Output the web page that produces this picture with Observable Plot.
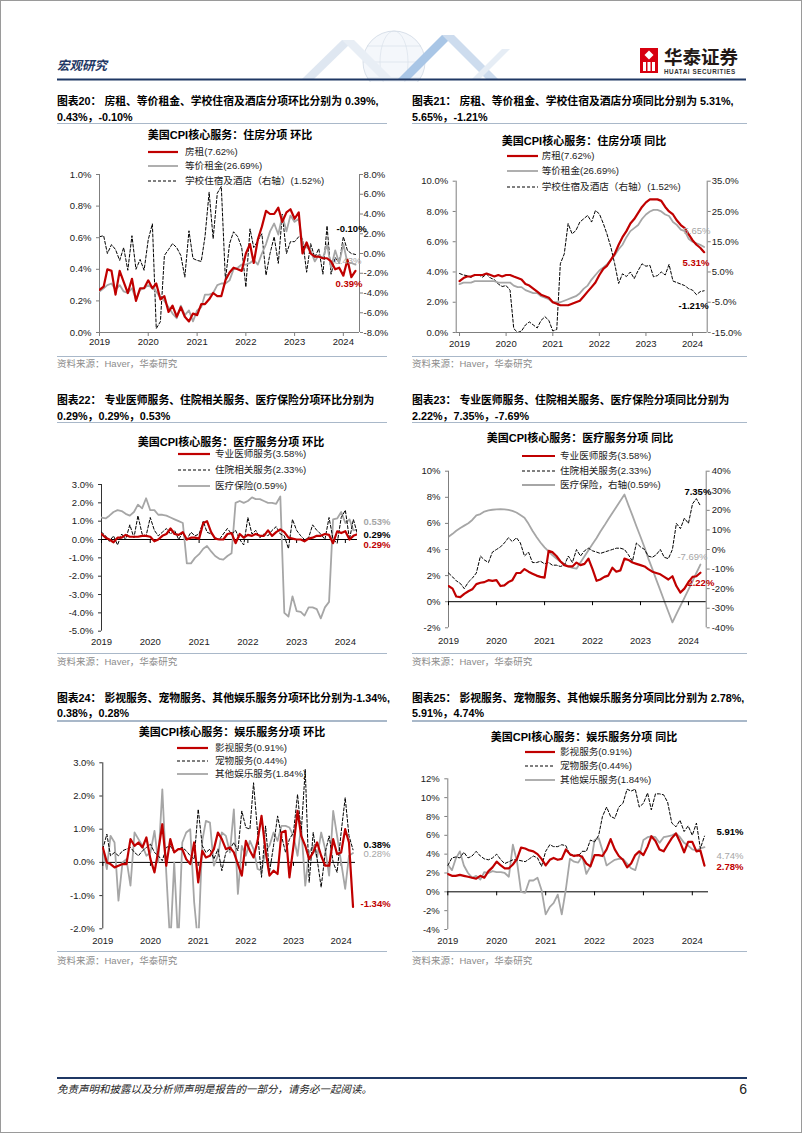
<!DOCTYPE html>
<html lang="zh">
<head>
<meta charset="utf-8">
<script src="https://cdn.jsdelivr.net/npm/d3@7"></script>
<script src="https://cdn.jsdelivr.net/npm/@observablehq/plot@0.6"></script>
<style>
html,body{margin:0;padding:0;background:#fff;}
#page{position:relative;width:802px;height:1133px;overflow:hidden;background:#fff;box-shadow:inset 0 0 0 1px #9a9a9a;font-family:"Liberation Sans",Arial,"Noto Sans CJK SC",sans-serif;}
.abs{position:absolute;}
.t1{font-family:"Liberation Sans","Noto Sans CJK SC",sans-serif;font-weight:700;font-size:10.8px;line-height:14px;color:#000;white-space:nowrap;}
.ct{font-family:"Liberation Sans","Noto Sans CJK SC",sans-serif;font-weight:700;font-size:11px;line-height:14px;color:#000;white-space:nowrap;text-align:center;width:300px;}
.lg{font-family:"Liberation Sans","Noto Sans CJK SC",sans-serif;font-size:9.6px;line-height:12px;color:#222;white-space:nowrap;}
.src{font-family:"Liberation Sans","Noto Sans CJK SC",sans-serif;font-size:9.5px;line-height:12px;color:#8c8c8c;white-space:nowrap;}
</style>
</head>
<body>
<div id="page">
<svg class="abs" style="left:0;top:0" width="802" height="82">
  <circle cx="394" cy="62" r="31" fill="#f4f7fb" stroke="#cfd8e3" stroke-width="0.8"/>
  <ellipse cx="394" cy="62" rx="14" ry="31" fill="none" stroke="#d5dde7" stroke-width="0.6"/>
  <path d="M363 62 H425 M367 46 H421 M367 78 H421" stroke="#d5dde7" stroke-width="0.6"/>
  <polygon points="302,79 342,40 354,40 314,79" fill="#dfe7f1"/>
  <polygon points="342,40 381,79 393,79 354,40" fill="#e8eef5"/>
  <polygon points="398,79 442,35 454,35 410,79" fill="#a9c6e6"/>
  <polygon points="442,35 486,79 498,79 454,35" fill="#cddcee"/>
  <polygon points="472,79 502,49 510,49 480,79" fill="#e6edf5"/>
  <rect x="640" y="48" width="18" height="25" fill="#d7000f"/>
  <polygon points="649,50.5 653.5,55 649,59.5 644.5,55" fill="#fff"/>
  <rect x="643" y="62" width="3" height="9" fill="#fff"/>
  <rect x="647.5" y="62" width="3" height="9" fill="#fff"/>
  <rect x="652" y="62" width="3" height="9" fill="#fff"/>
  <line x1="57" y1="79.5" x2="746" y2="79.5" stroke="#1f3864" stroke-width="2"/>
</svg>
</div>
<script>
// ---------------- data ----------------
const yearLabels = [2019, 2020, 2021, 2022, 2023, 2024];
const firstMonth = [2019, 0];
const lastMonthExclusive = [2024, 4]; // data through 2024-04

// 图表20 环比 (%)
const rent20 = [0.27,0.29,0.40,0.39,0.24,0.39,0.32,0.25,0.34,0.20,0.28,0.28,
  0.33,0.28,0.31,0.21,0.23,0.13,0.17,0.10,0.16,0.10,0.07,0.12,
  0.11,0.18,0.18,0.21,0.25,0.23,0.23,0.33,0.38,0.41,0.40,0.39,
  0.50,0.56,0.44,0.59,0.67,0.77,0.75,0.75,0.79,0.70,0.76,0.78,
  0.72,0.76,0.50,0.57,0.50,0.48,0.48,0.47,0.47,0.45,0.40,0.41,
  0.36,0.46,0.35,0.39];
const oer20 = [0.26,0.28,0.30,0.31,0.27,0.30,0.26,0.25,0.28,0.21,0.27,0.28,
  0.30,0.28,0.26,0.22,0.20,0.16,0.12,0.09,0.17,0.11,0.14,0.07,
  0.14,0.16,0.24,0.24,0.25,0.30,0.31,0.31,0.33,0.40,0.41,0.43,
  0.43,0.44,0.46,0.43,0.50,0.56,0.64,0.69,0.62,0.74,0.64,0.74,
  0.70,0.72,0.56,0.54,0.52,0.45,0.49,0.47,0.56,0.41,0.52,0.44,
  0.56,0.44,0.44,0.43];
const hotel20 = [1.7,1.8,0.0,0.9,0.4,-0.7,0.6,-1.7,1.8,-1.6,-0.6,-1.7,
  1.4,3.0,-7.6,-6.9,-0.2,0.4,1.0,0.6,-0.2,-2.4,2.3,-0.5,
  -0.7,-0.8,1.7,6.2,1.5,6.1,6.8,-2.7,1.0,2.2,1.7,0.6,
  -3.4,2.5,0.6,1.3,2.0,-2.2,0.0,1.7,-1.0,4.0,0.0,1.2,
  1.2,1.7,1.5,-1.9,1.0,-0.4,0.5,-2.1,2.8,-2.1,-0.4,-1.0,
  1.7,0.3,0.0,-0.1];

// 图表21 同比 (%)
const rent21 = [3.4,3.6,3.7,3.7,3.8,3.8,3.8,3.9,3.8,3.7,3.8,3.7,
  3.8,3.8,3.7,3.6,3.5,3.2,3.1,2.9,2.7,2.5,2.4,2.3,
  2.0,1.9,1.8,1.8,1.8,1.9,2.0,2.1,2.4,2.7,3.0,3.3,
  3.8,4.2,4.4,4.8,5.2,5.8,6.3,6.7,7.2,7.5,7.9,8.3,
  8.6,8.8,8.8,8.8,8.7,8.3,8.0,7.8,7.4,7.1,6.9,6.5,
  6.1,5.8,5.6,5.31];
const oer21 = [3.2,3.3,3.3,3.3,3.4,3.4,3.4,3.4,3.4,3.4,3.3,3.3,
  3.3,3.3,3.1,3.0,3.0,2.8,2.7,2.6,2.6,2.4,2.3,2.2,
  2.0,2.0,2.0,2.1,2.2,2.3,2.4,2.6,2.9,3.1,3.5,3.8,
  4.1,4.3,4.5,4.8,5.1,5.5,5.8,6.3,6.7,6.9,7.1,7.5,
  7.8,8.0,8.1,8.1,8.0,7.8,7.7,7.3,7.1,6.8,6.7,6.2,
  6.0,5.9,5.8,5.65];
const hotel21 = [4.5,4.0,3.8,3.2,4.2,4.0,3.3,4.3,3.0,2.5,1.0,0.2,
  0.5,-1.0,-13.7,-15.0,-14.5,-12.5,-11.5,-12.5,-13.5,-11.0,-9.8,-11.0,
  -14.5,-14.0,7.7,11.0,21.0,17.6,18.7,21.5,22.6,23.7,21.5,25.3,
  24.2,21.0,17.6,13.2,7.7,1.2,4.4,3.5,5.0,2.8,5.5,7.7,
  6.9,7.2,3.4,3.8,5.0,4.0,7.5,2.0,1.5,1.0,0.5,-0.5,
  -1.0,-2.5,-1.5,-1.21];

// 图表22 环比 (%)
const doc22 = [0.30,0.10,0.00,-0.15,0.10,0.10,0.25,0.15,0.15,0.15,0.20,0.20,
  0.15,-0.10,0.00,0.20,0.30,0.60,0.30,0.25,0.40,0.00,0.10,0.10,
  0.05,0.90,1.00,0.40,0.05,0.00,0.00,0.30,0.35,-0.20,0.30,0.10,
  0.25,0.20,0.30,0.20,0.20,0.50,0.20,0.40,0.55,0.40,0.10,0.05,
  0.00,0.00,-0.10,0.05,0.10,0.20,0.20,0.30,0.25,-0.20,0.45,0.35,
  0.45,0.00,0.20,0.29];
const hosp22 = [0.40,0.20,-0.10,0.20,-0.30,0.30,0.00,0.80,0.10,1.30,0.30,0.20,
  1.20,0.50,0.20,0.40,0.60,0.30,0.50,0.00,0.40,0.00,0.40,0.20,
  0.30,1.00,0.40,0.30,0.10,0.00,0.30,0.60,0.30,0.50,0.00,-0.30,
  1.20,0.30,0.50,0.10,0.30,0.20,0.50,0.70,0.30,0.20,-0.50,1.10,
  0.50,0.20,0.00,0.10,0.80,0.50,0.30,0.00,1.20,0.00,-0.20,1.20,
  1.60,0.00,1.10,0.29];
const ins22 = [1.20,1.15,1.30,1.50,1.60,1.55,1.40,1.30,1.50,1.90,1.70,2.25,
  1.60,1.60,1.35,1.35,1.30,1.20,1.10,1.00,0.90,-1.30,-1.30,-1.00,
  -0.80,-0.50,-0.35,-0.65,-0.90,-1.05,-1.10,-0.90,-0.75,2.00,2.10,2.00,
  2.10,2.30,2.20,2.20,2.10,2.00,2.00,1.95,2.35,-4.00,-4.20,-3.10,
  -3.90,-3.95,-4.15,-3.70,-3.70,-3.80,-4.30,-3.70,-3.40,1.10,1.15,1.50,
  0.90,1.10,0.50,0.53];

// 图表23 同比 (%)
const doc23 = [1.20,1.00,0.40,0.35,0.60,0.80,0.95,1.35,1.45,1.50,1.65,1.60,
  1.65,1.20,1.25,1.50,1.65,2.20,2.20,2.50,2.30,2.15,2.00,1.90,
  1.85,3.90,3.80,3.50,3.10,2.80,2.70,2.70,3.00,2.80,2.90,3.30,
  2.50,1.60,1.70,1.90,2.00,2.60,2.30,2.40,3.30,3.20,3.00,2.90,
  2.80,2.70,2.50,2.30,2.20,2.10,1.90,1.70,1.95,1.20,0.70,1.00,
  1.50,1.90,1.95,2.22];
const hosp23 = [2.20,1.90,1.60,1.40,1.00,1.50,1.80,2.20,3.50,3.20,3.00,3.80,
  4.00,4.20,4.50,4.90,4.60,4.90,4.50,3.50,3.80,3.00,3.00,3.10,
  2.90,3.00,2.80,2.80,2.70,2.80,3.50,3.00,4.00,3.50,3.90,4.10,
  3.90,3.80,3.70,3.80,3.90,4.00,4.10,4.10,4.00,3.60,3.10,4.50,
  4.20,4.00,3.50,3.40,3.60,4.00,3.40,3.30,4.00,6.00,5.60,6.40,
  6.00,7.50,7.90,7.35];
const ins23 = [6.5,8.0,9.6,11.0,12.2,13.4,15.1,17.4,18.1,19.4,20.0,20.3,
  20.5,20.6,20.5,20.2,19.7,18.9,17.6,16.2,13.1,9.6,6.4,3.6,
  1.1,-1.0,-2.9,-4.6,-6.1,-7.4,-8.6,-9.4,-9.8,-6.6,-3.5,-0.4,
  2.8,5.9,9.1,12.2,15.4,18.6,21.7,24.9,28.1,22.7,17.3,11.9,
  6.5,1.0,-4.5,-9.9,-15.4,-20.9,-26.3,-31.8,-37.2,-33.0,-28.8,-24.7,
  -20.5,-16.3,-12.0,-7.69];

// 图表24 环比 (%)
const video24 = [0.45,0.00,-0.05,-0.15,-0.10,-0.05,-0.05,0.70,0.50,0.60,0.45,0.75,
  0.10,-0.30,0.35,1.15,-0.10,0.70,0.30,0.40,0.40,0.10,-0.05,0.60,
  -0.60,0.35,0.15,0.20,0.40,0.90,0.70,0.40,0.45,0.30,-0.05,-0.40,
  0.65,0.35,0.15,0.65,1.40,0.35,-0.40,-0.25,-0.35,0.90,0.95,-0.45,
  0.50,1.55,0.80,0.50,0.10,0.30,0.60,0.20,-0.10,-0.10,0.70,0.25,
  0.30,1.00,0.60,-1.34];
const pet24 = [0.40,0.85,0.20,0.30,0.20,0.35,0.40,0.45,0.30,0.20,0.35,0.45,
  0.55,0.30,0.20,0.05,0.45,0.50,0.30,0.40,0.45,0.35,0.20,0.10,
  1.60,0.50,0.30,0.40,0.10,0.40,-0.25,0.30,0.40,0.60,0.35,1.55,
  1.05,1.00,2.40,0.90,-0.45,1.10,-0.30,0.50,1.40,0.80,0.30,0.70,
  0.90,2.05,0.90,2.80,-0.60,0.90,0.10,-0.75,0.30,0.80,0.00,-0.30,
  0.90,1.95,0.80,0.38];
const rec24 = [0.40,-0.20,0.80,0.60,-1.15,0.00,0.10,-0.70,0.90,0.70,0.50,0.20,
  0.30,0.95,0.00,2.20,-0.30,-2.50,0.00,-2.50,0.60,0.90,1.00,-1.20,
  -2.50,0.65,1.25,1.20,-0.10,0.20,0.90,0.80,0.30,1.60,-0.95,0.50,
  0.20,0.65,0.40,-0.20,-0.25,0.35,0.50,0.90,0.65,1.10,1.10,1.05,
  0.80,0.20,1.10,-0.70,0.30,0.50,0.15,0.90,0.40,-0.40,1.55,0.80,
  0.00,-0.80,0.20,0.28];

// 图表25 同比 (%)
const video25 = [1.90,1.70,1.70,1.80,1.70,1.60,1.50,1.40,1.70,1.50,2.20,2.60,
  3.20,2.80,2.50,2.50,2.90,3.50,4.70,4.60,4.40,4.30,4.00,3.50,
  2.80,3.40,3.60,3.40,3.50,4.50,4.00,3.80,3.90,3.70,3.00,2.70,
  3.90,3.90,3.80,4.50,5.60,4.50,3.80,3.40,2.60,3.00,3.90,4.30,
  3.90,4.80,5.90,5.40,4.50,4.30,5.00,5.70,6.20,5.30,4.20,5.30,
  5.30,4.30,4.40,2.78];
const pet25 = [2.80,3.60,3.70,3.60,4.20,3.60,3.80,4.30,3.80,3.50,3.40,3.60,
  4.00,3.40,3.00,3.20,3.40,3.40,3.30,3.20,3.50,3.80,3.60,2.70,
  4.30,5.00,4.80,4.80,5.00,4.90,3.90,3.90,3.80,4.30,4.30,5.50,
  5.30,6.00,8.00,9.00,8.00,7.80,9.00,9.40,10.90,10.70,10.90,9.00,
  9.40,10.50,8.70,10.40,10.40,10.30,9.50,7.30,6.90,7.60,6.40,7.00,
  6.00,7.30,4.60,5.91];
const rec25 = [2.90,2.30,3.50,4.30,2.80,2.00,1.50,1.70,1.30,2.10,2.00,2.20,
  2.10,2.10,2.00,1.60,5.00,3.20,0.00,-0.10,1.20,1.20,1.50,0.20,
  -2.40,-1.60,-1.20,-0.30,-2.40,0.30,3.50,3.20,3.10,3.80,1.90,2.70,
  5.50,5.70,4.40,2.80,3.10,3.40,3.50,3.50,3.00,2.50,2.30,3.80,
  5.50,5.80,5.90,5.80,5.20,5.80,5.90,6.00,6.20,5.80,5.20,4.90,
  4.50,4.40,4.60,4.74];

// tick values
const ticks20L = [0, 0.2, 0.4, 0.6, 0.8, 1.0];
const ticks20R = [-8, -6, -4, -2, 0, 2, 4, 6, 8];
const ticks21L = [0, 2, 4, 6, 8, 10];
const ticks21R = [-15, -5, 5, 15, 25, 35];
const ticks22 = [-5, -4, -3, -2, -1, 0, 1, 2, 3];
const ticks23L = [-2, 0, 2, 4, 6, 8, 10];
const ticks23R = [-40, -30, -20, -10, 0, 10, 20, 30, 40];
const ticks24 = [-2, -1, 0, 1, 2, 3];
const ticks25 = [-4, -2, 0, 2, 4, 6, 8, 10, 12];

// ---------------- helpers ----------------
const page = document.getElementById("page");
const FONT = '"Liberation Sans", Arial, sans-serif';
const AX = "#7f7f7f";
const months = d3.utcMonth.range(new Date(Date.UTC(...firstMonth, 1)), new Date(Date.UTC(...lastMonthExclusive, 1)));
const yearTicks = yearLabels.map(y => new Date(Date.UTC(y, 0, 1)));
const rows = vals => vals.map((v, i) => ({date: months[i], v}));
const f1 = d => d.toFixed(1) + "%";
const f0 = d => d + "%";
const utc = (y, m, d) => new Date(Date.UTC(y, m - 1, d));

const RED = {stroke: "#c00000", strokeWidth: 2.2};
const GRAY = {stroke: "#a6a6a6", strokeWidth: 1.8};
const DASH = {stroke: "#000", strokeWidth: 1, strokeDasharray: "3,2"};
const LBL = {
  red: {fill: "#c00000", fontWeight: "bold"},
  black: {fill: "#000", fontWeight: "bold"},
  gray: {fill: "#a6a6a6", fontWeight: "normal"},
  grayb: {fill: "#a6a6a6", fontWeight: "bold"}
};

function div(x, y, html, cls, extra) {
  const d = document.createElement("div");
  d.className = "abs " + (cls || "");
  d.style.left = x + "px";
  d.style.top = y + "px";
  if (extra) Object.assign(d.style, extra);
  d.innerHTML = html;
  page.appendChild(d);
  return d;
}
function hline(x1, x2, y, color, w) {
  div(x1, y - w / 2, "", "", {width: (x2 - x1) + "px", height: w + "px", background: color});
}
function legendRow(x1, x2, tx, y, st, label) {
  const ns = "http://www.w3.org/2000/svg";
  const s = document.createElementNS(ns, "svg");
  s.setAttribute("width", x2 - x1); s.setAttribute("height", 6);
  s.style.position = "absolute"; s.style.left = x1 + "px"; s.style.top = (y - 3) + "px";
  const l = document.createElementNS(ns, "line");
  l.setAttribute("x1", 0); l.setAttribute("x2", x2 - x1); l.setAttribute("y1", 3); l.setAttribute("y2", 3);
  l.setAttribute("stroke", st.stroke); l.setAttribute("stroke-width", st.strokeWidth);
  if (st.strokeDasharray) l.setAttribute("stroke-dasharray", st.strokeDasharray);
  s.appendChild(l);
  page.appendChild(s);
  div(tx, y - 6, label, "lg");
}

function seriesMarks(list) {
  const m = [];
  for (const s of list) {
    const data = rows(s.values);
    m.push(Plot.lineY(data, {x: "date", y: "v", ...s.style, clip: true}));
  }
  for (const s of list) {
    if (!s.label) continue;
    const last = rows(s.values).at(-1);
    m.push(Plot.text([{...last, t: s.label.text}], {
      x: "date", y: "v", text: "t", dx: s.label.dx, dy: s.label.dy,
      textAnchor: "start", fontSize: 9.5, ...LBL[s.label.kind]
    }));
  }
  return m;
}

function plotBox(cfg, yDomain, marks, xAxisNull) {
  const {box, frame, xDomain} = cfg;
  const svg = Plot.plot({
    width: box.w, height: box.h,
    marginLeft: frame.l - box.x, marginRight: box.x + box.w - frame.r,
    marginTop: frame.t - box.y, marginBottom: box.y + box.h - frame.b,
    x: xAxisNull ? {type: "utc", domain: xDomain, axis: null, label: null} : {type: "utc", domain: xDomain, label: null},
    y: {type: "linear", domain: yDomain, label: null},
    style: {fontFamily: FONT, fontSize: "9.5px", color: "#1a1a1a", background: "transparent", overflow: "visible"},
    marks
  });
  svg.style.position = "absolute";
  svg.style.left = box.x + "px";
  svg.style.top = box.y + "px";
  page.appendChild(svg);
}

function chart(cfg) {
  const {frame, xDomain, left, right} = cfg;
  if (right) {
    plotBox(cfg, right.domain, [
      Plot.ruleX([xDomain[1]], {stroke: AX}),
      Plot.axisY({anchor: "right", ticks: right.ticks, tickFormat: right.fmt, tickSize: 3, tickPadding: right.pad, stroke: AX, label: null}),
      ...seriesMarks(right.series)
    ], true);
  }
  const yearFmt = d => String(yearLabels[yearTicks.findIndex(t => +t === +d)]);
  const axisMarks = [];
  if (cfg.mode === "frame") {
    axisMarks.push(Plot.ruleY([left.domain[0]], {stroke: AX}));
    axisMarks.push(Plot.axisX({ticks: yearTicks, tickFormat: yearFmt, tickSize: 4, tickPadding: cfg.xPad, stroke: AX, label: null}));
  } else {
    const tl = (left.domain[1] - left.domain[0]) * 4 / (frame.b - frame.t);
    axisMarks.push(Plot.axisX({ticks: yearTicks, tickFormat: yearFmt, tickSize: 0, tickPadding: cfg.xPad, label: null}));
    axisMarks.push(Plot.ruleY([0], {stroke: "#000", strokeWidth: 1}));
    axisMarks.push(Plot.ruleX(yearTicks, {x: d => d, y1: 0, y2: -tl, stroke: "#000"}));
  }
  plotBox(cfg, left.domain, [
    Plot.ruleX([xDomain[0]], {stroke: cfg.leftAxisColor || AX}),
    Plot.axisY({ticks: left.ticks, tickFormat: left.fmt, tickSize: 3, tickPadding: 5, stroke: cfg.leftAxisColor || AX, label: null}),
    ...axisMarks,
    ...seriesMarks(left.series)
  ], false);
}

function panelText(px, pw, t, c, lg, src) {
  div(px, t.y1 - 7, t.l1, "t1");
  div(px, t.y2 - 7, t.l2, "t1");
  hline(px, px + pw, t.sep, "#a9b8c9", 1.3);
  div(c.cx - 150, c.y - 7, c.text, "ct");
  for (const r of lg.rows) legendRow(lg.x1, lg.x2, lg.tx, r.y, r.st, r.label);
  hline(px, px + pw, src.line, "#a9b8c9", 1.3);
  div(px, src.y - 6, "资料来源：Haver，华泰研究", "src");
}

// ---------------- header / footer text ----------------
div(57, 58, "宏观研究", "", {fontFamily: '"Noto Sans CJK SC"', fontWeight: "700", fontSize: "12.5px", lineHeight: "14px", color: "#1f3864", fontStyle: "italic"});
div(664, 46, "华泰证券", "", {fontFamily: '"Noto Sans CJK SC"', fontWeight: "700", fontSize: "18.5px", lineHeight: "20px", color: "#231815"});
div(664, 68, "HUATAI SECURITIES", "", {fontFamily: FONT, fontWeight: "700", fontSize: "6.3px", lineHeight: "7px", color: "#333", letterSpacing: "0.55px"});
hline(57, 747, 1077.5, "#1f3864", 2);
div(57, 1082, "免责声明和披露以及分析师声明是报告的一部分，请务必一起阅读。", "", {fontFamily: '"Noto Sans CJK SC"', fontSize: "10.5px", lineHeight: "14px", color: "#222", fontStyle: "italic"});
div(735, 1081, "6", "", {fontFamily: FONT, fontSize: "14px", lineHeight: "16px", color: "#222", width: "12px", textAlign: "right"});

// ---------------- panels ----------------
// 图表20
chart({
  box: {x: 57, y: 160, w: 335, h: 195}, frame: {l: 99, r: 359, t: 174, b: 332},
  xDomain: [utc(2019, 1, 1), utc(2024, 5, 1)], mode: "frame", xPad: 1.5,
  left: {domain: [0, 1], ticks: ticks20L, fmt: f1, series: [
    {values: oer20, style: GRAY, label: {text: "0.43%", dx: -21, dy: -4, kind: "gray"}},
    {values: rent20, style: RED, label: {text: "0.39%", dx: -20, dy: 12.6, kind: "red"}}
  ]},
  right: {domain: [-8, 8], ticks: ticks20R, fmt: f1, pad: 1, series: [
    {values: hotel20, style: DASH, label: {text: "-0.10%", dx: -19, dy: -26, kind: "black"}}
  ]}
});
panelText(57, 330,
  {l1: "图表20：&nbsp;房租、等价租金、学校住宿及酒店分项环比分别为 0.39%,", l2: "0.43%，-0.10%", y1: 101, y2: 117, sep: 123.5},
  {cx: 230, y: 135, text: "美国CPI核心服务：住房分项 环比"},
  {x1: 148, x2: 178, tx: 185, rows: [
    {y: 151.7, st: RED, label: "房租(7.62%)"},
    {y: 166, st: GRAY, label: "等价租金(26.69%)"},
    {y: 180.7, st: DASH, label: "学校住宿及酒店（右轴）(1.52%)"}]},
  {line: 356.7, y: 363.5});

// 图表21
chart({
  box: {x: 412, y: 170, w: 335, h: 185}, frame: {l: 455.7, r: 706.7, t: 180.7, b: 332},
  xDomain: [utc(2018, 12, 6), utc(2024, 4, 25)], mode: "frame", xPad: 3.5,
  left: {domain: [0, 10], ticks: ticks21L, fmt: f1, series: [
    {values: oer21, style: GRAY, label: {text: "5.65%", dx: -20.6, dy: -16.5, kind: "gray"}},
    {values: rent21, style: RED, label: {text: "5.31%", dx: -21.6, dy: 11, kind: "red"}}
  ]},
  right: {domain: [-15, 35], ticks: ticks21R, fmt: f1, pad: 1.5, series: [
    {values: hotel21, style: DASH, label: {text: "-1.21%", dx: -25.6, dy: 14.7, kind: "black"}}
  ]}
});
panelText(412, 335,
  {l1: "图表21：&nbsp;房租、等价租金、学校住宿及酒店分项同比分别为 5.31%,", l2: "5.65%，-1.21%", y1: 101, y2: 117, sep: 123.5},
  {cx: 584, y: 140.7, text: "美国CPI核心服务：住房分项 同比"},
  {x1: 506.7, x2: 538, tx: 541.7, rows: [
    {y: 155.7, st: RED, label: "房租(7.62%)"},
    {y: 171, st: GRAY, label: "等价租金(26.69%)"},
    {y: 186.7, st: DASH, label: "学校住宿及酒店（右轴）(1.52%)"}]},
  {line: 356.7, y: 363.5});

// 图表22
chart({
  box: {x: 57, y: 470, w: 335, h: 185}, frame: {l: 101, r: 357, t: 484, b: 630.7},
  xDomain: [utc(2019, 1, 1), utc(2024, 4, 1)], mode: "zero", xPad: 7.5, leftAxisColor: "#333",
  left: {domain: [-5, 3], ticks: ticks22, fmt: f1, series: [
    {values: ins22, style: GRAY, label: {text: "0.53%", dx: 6, dy: -8.3, kind: "grayb"}},
    {values: hosp22, style: DASH, label: {text: "0.29%", dx: 6, dy: 0.3, kind: "black"}},
    {values: doc22, style: RED, label: {text: "0.29%", dx: 6, dy: 10.3, kind: "red"}}
  ]}
});
panelText(57, 330,
  {l1: "图表22：&nbsp;专业医师服务、住院相关服务、医疗保险分项环比分别为", l2: "0.29%，0.29%，0.53%", y1: 400, y2: 415.7, sep: 422.3},
  {cx: 231, y: 441.7, text: "美国CPI核心服务：医疗服务分项 环比"},
  {x1: 178, x2: 210, tx: 215, rows: [
    {y: 454.3, st: RED, label: "专业医师服务(3.58%)"},
    {y: 470, st: DASH, label: "住院相关服务(2.33%)"},
    {y: 485.7, st: GRAY, label: "医疗保险(0.59%)"}]},
  {line: 653.3, y: 661.7});

// 图表23
chart({
  box: {x: 412, y: 460, w: 335, h: 192}, frame: {l: 448, r: 705.7, t: 470.7, b: 627.3},
  xDomain: [utc(2019, 1, 1), utc(2024, 5, 15)], mode: "zero", xPad: 9,
  left: {domain: [-2, 10], ticks: ticks23L, fmt: f0, series: [
    {values: hosp23, style: DASH, label: {text: "7.35%", dx: -16, dy: -14, kind: "black"}},
    {values: doc23, style: RED, label: {text: "2.22%", dx: -13, dy: 10.3, kind: "red"}}
  ]},
  right: {domain: [-40, 40], ticks: ticks23R, fmt: f0, pad: 2.5, series: [
    {values: ins23, style: GRAY, label: {text: "-7.69%", dx: -23, dy: -8, kind: "gray"}}
  ]}
});
panelText(412, 335,
  {l1: "图表23：&nbsp;专业医师服务、住院相关服务、医疗保险分项同比分别为", l2: "2.22%，7.35%，-7.69%", y1: 400, y2: 415.7, sep: 422.3},
  {cx: 580, y: 437.7, text: "美国CPI核心服务：医疗服务分项 同比"},
  {x1: 521.7, x2: 555, tx: 560, rows: [
    {y: 455.7, st: RED, label: "专业医师服务(3.58%)"},
    {y: 470.7, st: DASH, label: "住院相关服务(2.33%)"},
    {y: 485, st: GRAY, label: "医疗保险，右轴(0.59%)"}]},
  {line: 653.3, y: 661.7});

// 图表24
chart({
  box: {x: 57, y: 750, w: 335, h: 200}, frame: {l: 102.3, r: 355, t: 762.3, b: 928.3},
  xDomain: [utc(2019, 1, 1), utc(2024, 4, 20)], mode: "zero", xPad: 8, leftAxisColor: "#333",
  left: {domain: [-2, 3], ticks: ticks24, fmt: f1, series: [
    {values: rec24, style: GRAY, label: {text: "0.28%", dx: 10.5, dy: 0.5, kind: "gray"}},
    {values: pet24, style: DASH, label: {text: "0.38%", dx: 10.5, dy: -5, kind: "black"}},
    {values: video24, style: RED, label: {text: "-1.34%", dx: 7.5, dy: -3, kind: "red"}}
  ]}
});
panelText(57, 330,
  {l1: "图表24：&nbsp;影视服务、宠物服务、其他娱乐服务分项环比分别为-1.34%,", l2: "0.38%，0.28%", y1: 698.3, y2: 713.3, sep: 721},
  {cx: 232, y: 731.7, text: "美国CPI核心服务：娱乐服务分项 环比"},
  {x1: 176.7, x2: 208, tx: 215, rows: [
    {y: 747.7, st: RED, label: "影视服务(0.91%)"},
    {y: 761, st: DASH, label: "宠物服务(0.44%)"},
    {y: 774.3, st: GRAY, label: "其他娱乐服务(1.84%)"}]},
  {line: 951.7, y: 961});

// 图表25
chart({
  box: {x: 412, y: 765, w: 335, h: 187}, frame: {l: 447.3, r: 708, t: 778.3, b: 929},
  xDomain: [utc(2019, 1, 1), utc(2024, 5, 1)], mode: "zero", xPad: 7.5,
  left: {domain: [-4, 12], ticks: ticks25, fmt: f0, series: [
    {values: rec25, style: GRAY, label: {text: "4.74%", dx: 12, dy: 9, kind: "gray"}},
    {values: pet25, style: DASH, label: {text: "5.91%", dx: 12, dy: -4, kind: "black"}},
    {values: video25, style: RED, label: {text: "2.78%", dx: 12, dy: 1.6, kind: "red"}}
  ]}
});
panelText(412, 335,
  {l1: "图表25：&nbsp;影视服务、宠物服务、其他娱乐服务分项同比分别为 2.78%,", l2: "5.91%，4.74%", y1: 698.3, y2: 713.3, sep: 721},
  {cx: 584, y: 737.3, text: "美国CPI核心服务：娱乐服务分项 同比"},
  {x1: 525, x2: 555, tx: 560, rows: [
    {y: 751.7, st: RED, label: "影视服务(0.91%)"},
    {y: 765.7, st: DASH, label: "宠物服务(0.44%)"},
    {y: 780, st: GRAY, label: "其他娱乐服务(1.84%)"}]},
  {line: 951.7, y: 961});
</script>
</body>
</html>
